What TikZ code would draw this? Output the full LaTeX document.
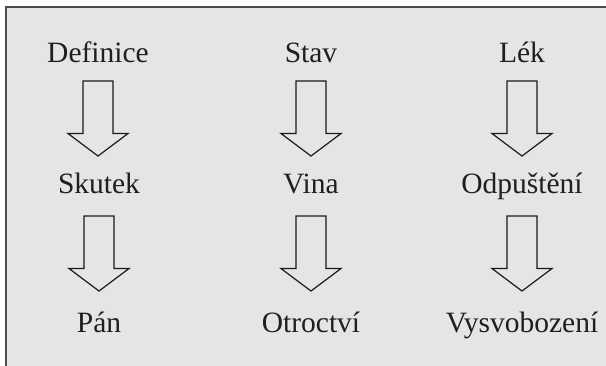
\documentclass[tikz,border=0pt]{standalone}
\usepackage{fontspec}
\setmainfont{Liberation Serif}
\usetikzlibrary{calc}

\begin{document}
\begin{tikzpicture}[x=1pt,y=-1pt,
    word/.style={font=\fontsize{29.5}{31}\selectfont,anchor=base,inner sep=0pt,text=black!88},
    fat/.style={draw=black!90,line width=1.2pt,line join=miter,
      to path={let \p1=(\tikztostart), \p2=(\tikztotarget),
        \n1={0.5*(\y1+\y2)+9pt} in
        (\x1-15pt,\n1+37.5pt) -- (\x1+15pt,\n1+37.5pt) -- (\x1+15pt,\n1-15pt)
        -- (\x1+30pt,\n1-15pt) -- (\x1,\n1-37.5pt) -- (\x1-30pt,\n1-15pt)
        -- (\x1-15pt,\n1-15pt) -- cycle}}]
    \useasboundingbox (0,0) rectangle (606,365);
    % background panel
    \fill[black!10] (6,7) rectangle (612,372);
    \draw[black!70,line width=1.8pt] (6,372) -- (6,7) -- (612,7);

    \node[word] (def) at (98,62)  {Definice};
    \node[word] (sku) at (99,193) {Skutek};
    \node[word] (pan) at (99,332) {Pán};

    \node[word] (stav) at (311,62)  {Stav};
    \node[word] (vina) at (311,193) {Vina};
    \node[word] (otr)  at (311,332) {Otroctví};

    \node[word] (lek) at (522,62)  {Lék};
    \node[word] (odp) at (522,193) {Odpuštění};
    \node[word] (vys) at (522,332) {Vysvobození};

    \foreach \a/\b in {def/sku,sku/pan,stav/vina,vina/otr,lek/odp,odp/vys}
      \draw[fat] (\a.base) to (\b.base);
\end{tikzpicture}
\end{document}
